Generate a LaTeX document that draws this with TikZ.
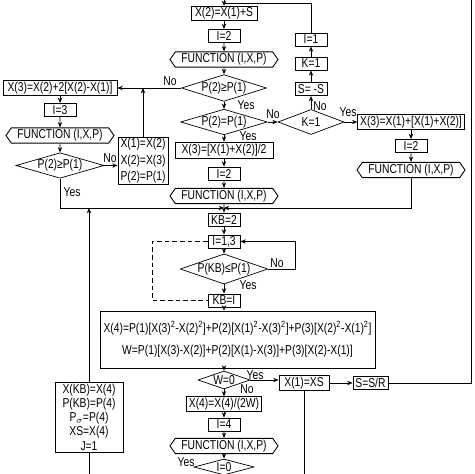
\documentclass[tikz,border=0pt]{standalone}
\usepackage{fontspec}
\setmainfont{Liberation Sans}[FakeStretch=0.8]
\usetikzlibrary{arrows.meta,shapes.geometric,shapes.symbols}
\tikzset{
  flowln/.style={-{Stealth[length=1.6mm,width=1.3mm]}, line width=0.6pt},
  plainln/.style={line width=0.6pt},
  loopln/.style={dash pattern=on 4pt off 2.5pt, line width=0.6pt},
  procbox/.style={draw, line width=0.75pt, minimum height=0.39cm, inner xsep=2pt,
    inner ysep=1pt, font=\fontsize{11}{13}\selectfont},
  smallbox/.style={procbox, minimum width=0.96cm},
  iobox/.style={draw, line width=0.75pt, signal, signal to=west and east,
    signal pointer angle=110, minimum width=3.24cm, minimum height=0.46cm,
    inner sep=1pt, font=\fontsize{11}{13}\selectfont},
  decide/.style={draw, line width=0.6pt, diamond, aspect=3.3, inner sep=0pt,
    font=\fontsize{11}{13}\selectfont},
  lbl/.style={inner sep=0pt, font=\fontsize{11}{13}\selectfont},
}

\begin{document}
\begin{tikzpicture}[x=0.03cm,y=-0.03cm]
  \useasboundingbox (0,0) rectangle (474,474);
  \clip (0,0) rectangle (474,474);
  % main column
  \node[procbox, minimum width=1.98cm] (x2s) at (224,13.5) {X(2)=X(1)+S};
  \node[smallbox] (i2a) at (224,36) {I=2};
  \node[iobox] (fa) at (224,59.5) {FUNCTION (I,X,P)};
  \node[decide, minimum width=2.55cm, minimum height=0.8cm] (d1) at (224,88) {P(2)≥P(1)};
  \node[decide, minimum width=2.6cm, minimum height=0.72cm] (d2) at (224,122) {P(2)=P(1)};
  \node[procbox, minimum width=2.94cm, minimum height=0.5cm] (x3avg) at (224,150.5) {X(3)=[X(1)+X(2)]/2};
  \node[smallbox] (i2b) at (224,173.5) {I=2};
  \node[iobox] (fb) at (224,196) {FUNCTION (I,X,P)};
  \coordinate (jn) at (224,208);
  \node[smallbox] (kb2) at (224,219.5) {KB=2};
  \node[smallbox] (i13) at (224,241.5) {I=1,3};
  \node[decide, aspect=2.9, minimum width=2.61cm, minimum height=0.84cm] (dkb) at (224,269) {P(KB)≤P(1)};
  \node[smallbox] (kbi) at (224,300.5) {KB=I};
  \node[procbox, minimum width=8.25cm, minimum height=1.71cm, align=center] (big) at (237.5,339.5)
    {X(4)=P(1)[X(3)\textsuperscript{2}-X(2)\textsuperscript{2}]+P(2)[X(1)\textsuperscript{2}-X(3)\textsuperscript{2}]+P(3)[X(2)\textsuperscript{2}-X(1)\textsuperscript{2}]\\[6pt]
     W=P(1)[X(3)-X(2)]+P(2)[X(1)-X(3)]+P(3)[X(2)-X(1)]};
  \node[decide, minimum width=1.56cm, minimum height=0.54cm] (dw) at (224,380) {W=0};
  \node[procbox, minimum width=2.25cm] (x4w) at (224,404) {X(4)=X(4)/(2W)};
  \node[smallbox] (i4) at (224,424.5) {I=4};
  \node[iobox] (fc) at (224,446) {FUNCTION (I,X,P)};
  \node[decide, minimum width=1.8cm, minimum height=0.48cm] (d0) at (224,467) {I=0};
  % K loop column
  \node[smallbox] (i1) at (311,39.5) {I=1};
  \node[smallbox] (k1) at (311,63.5) {K=1};
  \node[smallbox] (sneg) at (311,89) {S= -S};
  \node[decide, minimum width=1.98cm, minimum height=0.75cm] (dk) at (311,122) {K=1};
  % right column
  \node[procbox, minimum width=3.18cm, minimum height=0.45cm] (x3r) at (411,122) {X(3)=X(1)+[X(1)+X(2)]};
  \node[smallbox] (i2r) at (411,146) {I=2};
  \node[iobox] (fr) at (411,170) {FUNCTION (I,X,P)};
  % left column
  \node[procbox, minimum width=3.42cm] (x3l) at (60,88) {X(3)=X(2)+2[X(2)-X(1)]};
  \node[smallbox] (i3) at (60,110) {I=3};
  \node[iobox] (fl) at (60,135.5) {FUNCTION (I,X,P)};
  \node[decide, minimum width=2.64cm, minimum height=0.75cm] (dl) at (60,165.5) {P(2)≥P(1)};
  \node[procbox, minimum width=1.5cm, minimum height=1.38cm, align=center,
    font=\fontsize{11}{14}\selectfont] (swap) at (143,161) {X(1)=X(2)\\X(2)=X(3)\\P(2)=P(1)};
  \node[procbox, minimum width=2.04cm, minimum height=2.1cm, align=center,
    font=\fontsize{11}{12.2}\selectfont] (upd) at (89,417)
    {X(KB)=X(4)\\P(KB)=P(4)\\P$_\sigma$=P(4)\\XS=X(4)\\J=1};
  % bottom right
  \node[procbox, minimum width=1.5cm] (x1xs) at (304,383) {X(1)=XS};
  \node[procbox, minimum width=1.05cm] (ssr) at (370.5,383) {S=S/R};
  \coordinate (ttop) at (224,0);
  \coordinate (tjn) at (224,3);
  \coordinate (rtop) at (471,0);
  \coordinate (ubot) at (89,474);
  \coordinate (xsbot) at (304,474);
  % main flow
  \draw[flowln] (ttop) -- (x2s);
  \draw[flowln] (x2s) -- (i2a);
  \draw[flowln] (i2a) -- (fa);
  \draw[flowln] (fa) -- (d1);
  \draw[flowln] (d1) -- (d2);
  \draw[flowln] (d2) -- (x3avg);
  \draw[flowln] (x3avg) -- (i2b);
  \draw[flowln] (i2b) -- (fb);
  \draw[plainln] (fb) -- (jn);
  \draw[flowln] (jn) -- (kb2);
  \draw[flowln] (kb2) -- (i13);
  \draw[flowln] (i13) -- (dkb);
  \draw[flowln] (dkb) -- (kbi);
  \draw[flowln] (kbi.south) -- (kbi.south |- big.north);
  \draw[flowln] (dw.north |- big.south) -- (dw.north);
  \draw[flowln] (dw) -- (x4w);
  \draw[flowln] (x4w) -- (i4);
  \draw[flowln] (i4) -- (fc);
  \draw[flowln] (fc) -- (d0);
  % K loop
  \draw[flowln] (d2.east) -- (dk.west);
  \draw[flowln] (dk) -- (sneg);
  \draw[flowln] (sneg) -- (k1);
  \draw[flowln] (k1) -- (i1);
  \draw[plainln] (i1.north) |- (tjn);
  \draw[flowln] (dk.east) -- (x3r.west);
  \draw[flowln] (x3r) -- (i2r);
  \draw[flowln] (i2r) -- (fr);
  \draw[flowln] (fr.south) |- (jn);
  % left branch
  \draw[flowln] (d1.west) -- (x3l.east);
  \draw[flowln] (swap.north) -- (swap.north |- d1.west);
  \draw[flowln] (x3l) -- (i3);
  \draw[flowln] (i3) -- (fl);
  \draw[flowln] (fl) -- (dl);
  \draw[flowln] (dl.east) -- (dl.east -| swap.west);
  \draw[flowln] (dl.south) |- (jn);
  \draw[flowln] (upd.north) -- (upd.north |- jn);
  \draw[plainln] (ubot) -- (upd.south);
  % KB loop
  \draw[flowln] (dkb.east) -- ++(27,0) |- (i13.east);
  \draw[loopln] (i13.west) -- ++(-55,0) |- (kbi.west);
  % W=0 exit
  \draw[flowln] (dw.east) -- (dw.east -| x1xs.west);
  \draw[flowln] (x1xs) -- (ssr);
  \draw[plainln] (x1xs.south) -- (xsbot);
  \draw[plainln] (ssr.east) -| (rtop);
  % yes / no labels
  \node[lbl] (lb1) at (170,81.5) {No};
  \node[lbl] (lb2) at (246,105) {Yes};
  \node[lbl] (lb3) at (273,114) {No};
  \node[lbl] (lb4) at (320,106) {No};
  \node[lbl] (lb5) at (348,112) {Yes};
  \node[lbl] (lb6) at (248,136) {Yes};
  \node[lbl] (lb7) at (110,158) {No};
  \node[lbl] (lb8) at (72,192) {Yes};
  \node[lbl] (lb9) at (277,263) {No};
  \node[lbl] (lb10) at (248,285) {Yes};
  \node[lbl] (lb11) at (255,375) {Yes};
  \node[lbl] (lb12) at (247,389) {No};
  \node[lbl] (lb13) at (186,462) {Yes};
\end{tikzpicture}
\end{document}
